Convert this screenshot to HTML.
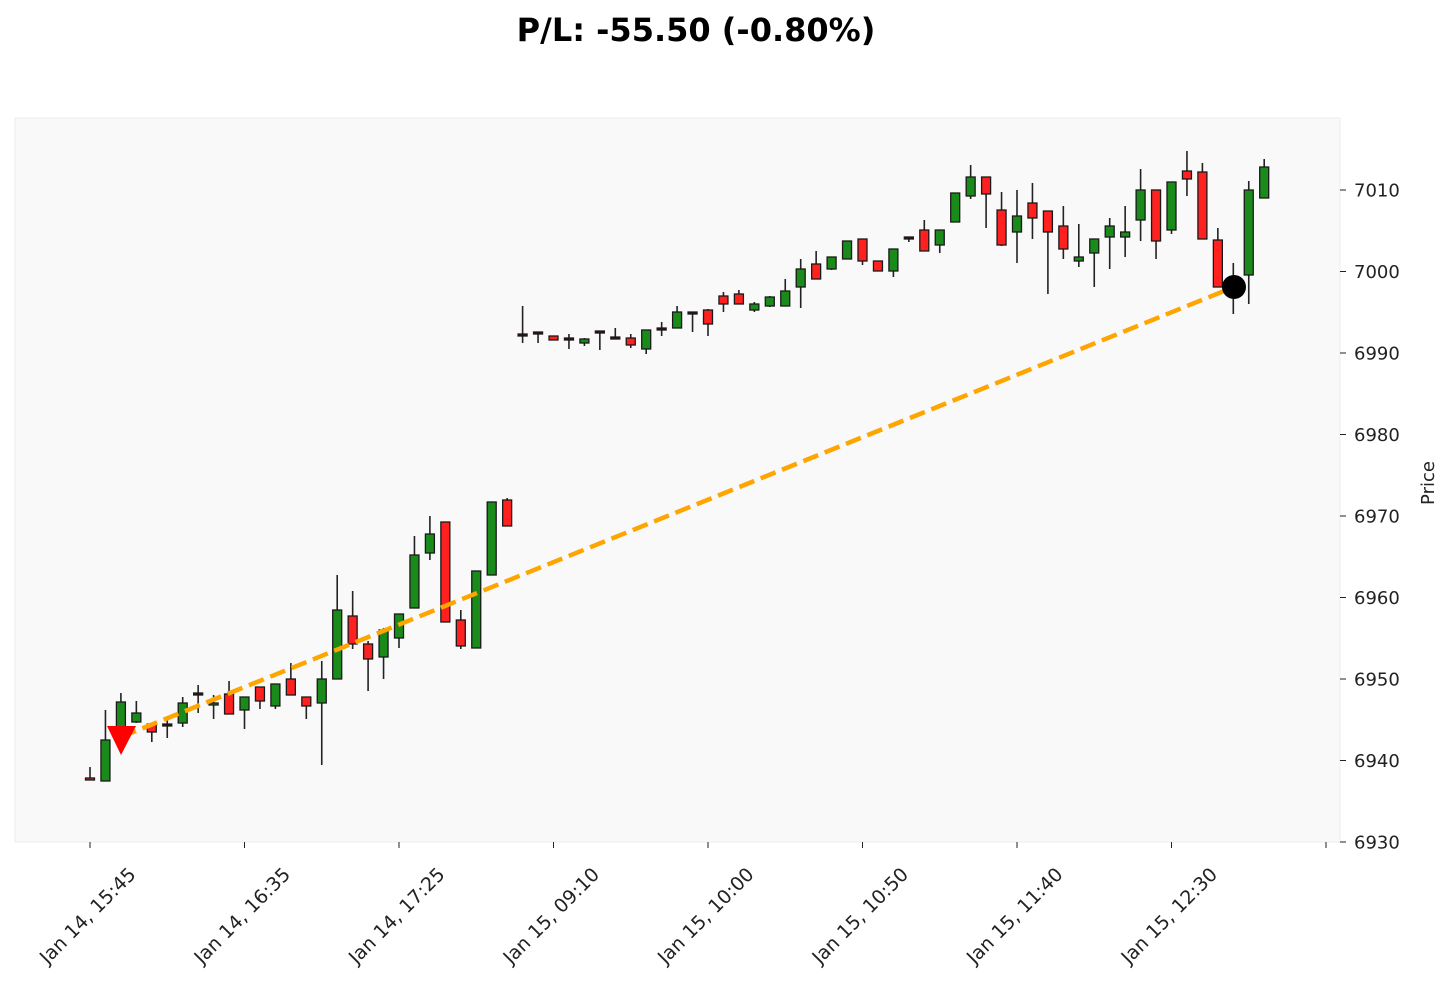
<!DOCTYPE html>
<html><head><meta charset="utf-8"><style>
html,body{margin:0;padding:0;background:#fff;}
svg{display:block;font-family:"DejaVu Sans","Liberation Sans",sans-serif;}
</style></head><body>
<svg id="s" width="1451" height="984" viewBox="0 0 1451 984" xmlns="http://www.w3.org/2000/svg">
<text x="696" y="41" text-anchor="middle" font-size="32" font-weight="bold" fill="#000">P/L: -55.50 (-0.80%)</text>
<rect x="15" y="118" width="1325" height="724" fill="#f9f9f9" stroke="#ececec" stroke-width="1"/>
<g id="c"></g>
<g id="ax" font-size="18" fill="#222"></g>
<text x="1434" y="483" font-size="18" fill="#222" text-anchor="middle" transform="rotate(-90 1434 483)">Price</text>
</svg>
<script>
var NS="http://www.w3.org/2000/svg";
function el(t,a,p){var e=document.createElementNS(NS,t);for(var k in a)e.setAttribute(k,a[k]);(p||document.getElementById('c')).appendChild(e);return e;}
var C=[
[778,780,767,780,'r'],[740,781,710,781,'g'],[702,737,693,743,'g'],[713,722,701,723,'g'],[724,732,724,742,'r'],
[724,726,716,738,'d'],[703,723,697,727,'g'],[693,695,685,713,'d'],[703,705,695,719,'g'],[694,714,681,714,'r'],
[697,710,697,729,'g'],[687,701,687,709,'r'],[684,706,684,709,'g'],[679,695,663,695,'r'],[697,706,697,719,'r'],
[679,703,661,765,'g'],[610,679,575,679,'g'],[616,644,591,649,'r'],[644,659,641,691,'r'],[630,657,628,679,'g'],
[614,638,614,648,'g'],[555,608,536,608,'g'],[534,553,516,560,'g'],[522,622,522,622,'r'],[620,646,610,649,'r'],
[571,648,571,648,'g'],[502,575,502,575,'g'],[500,526,498,526,'r'],[334,336,306,343,'d'],[332,334,332,343,'d'],
[336,340,336,340,'r'],[338,340,334,349,'d'],[339,343,338,346,'g'],[331,333,331,350,'d'],[337,339,328,339,'d'],
[338,345,334,348,'r'],[330,349,330,354,'g'],[328,330,322,336,'d'],[312,328,306,328,'g'],[312,314,312,332,'d'],
[310,324,309,336,'r'],[296,304,292,312,'r'],[294,304,290,304,'r'],[304,310,302,312,'g'],[297,306,296,307,'g'],
[291,306,279,306,'g'],[269,287,259,308,'g'],[264,279,251,279,'r'],[257,269,257,270,'g'],[241,259,241,259,'g'],
[239,261,239,265,'r'],[261,271,261,271,'r'],[249,271,249,277,'g'],[237,239,237,242,'d'],[230,251,220,251,'r'],
[230,245,230,253,'g'],[193,222,193,222,'g'],[177,196,165,199,'g'],[177,194,177,228,'r'],[210,245,192,246,'r'],
[216,232,190,263,'g'],[203,218,183,239,'r'],[211,232,211,294,'r'],[226,249,206,259,'r'],[257,261,224,267,'g'],
[239,253,239,287,'g'],[226,237,218,269,'g'],[232,237,206,257,'g'],[190,220,169,241,'g'],[190,241,190,259,'r'],
[182,230,182,234,'g'],[171,179,151,196,'r'],[172,239,163,239,'r'],[240,287,228,287,'r'],[279,287,263,314,'r'],
[190,275,181,304,'g'],[167,198,159,198,'g']];
var g=document.getElementById('c');
C.forEach(function(c,i){
  var x=90+15.45*i;
  el('line',{x1:x,x2:x,y1:c[2],y2:c[3],stroke:'#222','stroke-width':1.6},g);
  var f=c[4]=='g'?'#1a8a1a':(c[4]=='r'?'#ff2020':'#3a0a0a');
  var h=Math.max(c[1]-c[0],2);
  el('rect',{x:x-4.5,y:c[0],width:9,height:h,fill:f,stroke:'#1a1a1a','stroke-width':1.3},g);
});
el('line',{x1:121,y1:737,x2:1234,y2:287,stroke:'#ffa500','stroke-width':4.5,'stroke-dasharray':'16 7'},g);
el('polygon',{points:'107,726 136,726 121,755',fill:'#ff0000'},g);
el('circle',{cx:1234,cy:287,r:12,fill:'#000'},g);
var ax=document.getElementById('ax');
for(var v=6930;v<=7010;v+=10){
  var y=842-(v-6930)*8.15;
  el('line',{x1:1340,x2:1346,y1:y,y2:y,stroke:'#222','stroke-width':1},ax);
  var t=el('text',{x:1354,y:y+6.5},ax);t.textContent=v;
}
var L=['Jan 14, 15:45','Jan 14, 16:35','Jan 14, 17:25','Jan 15, 09:10','Jan 15, 10:00','Jan 15, 10:50','Jan 15, 11:40','Jan 15, 12:30'];
for(var i=0;i<9;i++){
  var x=90+154.5*i;
  el('line',{x1:x,x2:x,y1:842,y2:848,stroke:'#222','stroke-width':1},ax);
  if(i<8){var cx=x-2,cy=916;var t=el('text',{x:cx,y:cy+6,'text-anchor':'middle','font-size':19,transform:'rotate(-45 '+cx+' '+cy+')'},ax);t.textContent=L[i];}
}
</script>
</body></html>
